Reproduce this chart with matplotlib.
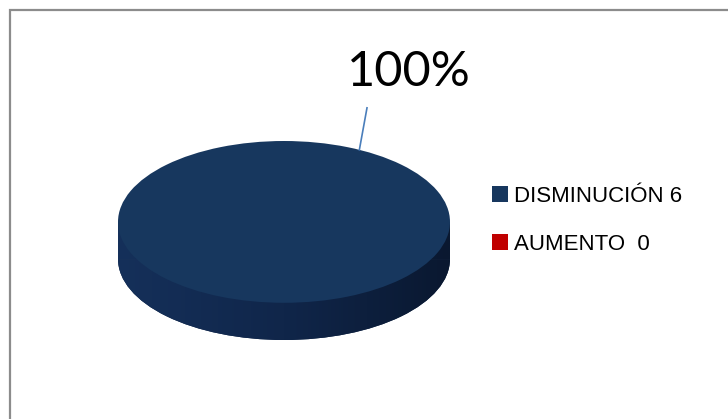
import numpy as np
import matplotlib
matplotlib.use("Agg")
import matplotlib.pyplot as plt
from matplotlib.patches import Rectangle, Wedge
from matplotlib.colors import LinearSegmentedColormap

# Datos del gráfico
categorias = ["DISMINUCIÓN", "AUMENTO "]
valores = [6, 0]
colores = ["#17375e", "#c00000"]
etiqueta_pct = "100%"

W, H = 728, 419
fig = plt.figure(figsize=(W / 100, H / 100), dpi=100)
fig.patch.set_facecolor("white")

# marco gris del área del gráfico (solo lados superior e izquierdo visibles)
fig.add_artist(Rectangle((10 / W, -0.1), 1.2, 1.1 - 10 / H, transform=fig.transFigure,
                         fill=False, edgecolor="#8c8c8c", lw=1.6))

# ejes del pastel: elipse superior + cara lateral
depth = 0.46
left, right, top, bottom = 118, 450, 141, 340
ax = fig.add_axes([left / W, 1 - bottom / H, (right - left) / W, (bottom - top) / H])
ax.set_xlim(-1, 1)
ax.set_ylim(-1 - depth, 1)
ax.axis("off")

# cara lateral: pastel desplazado hacia abajo + franja que lo une
side_color = "#0f2545"
side = Wedge((0, -depth), 1, 180, 360, facecolor=side_color, edgecolor="none")
band = Rectangle((-1, -depth), 2, depth, facecolor=side_color, edgecolor="none")
ax.add_patch(side)
ax.add_patch(band)
cmap = LinearSegmentedColormap.from_list("lado", ["#15305a", "#10264a", "#0a1830"])
grad = np.linspace(0, 1, 256).reshape(1, -1)
img = ax.imshow(grad, extent=(-1, 1, -1 - depth, 0), aspect="auto", cmap=cmap, zorder=1.5)
img.set_clip_path(side)
img2 = ax.imshow(grad, extent=(-1, 1, -1 - depth, 0), aspect="auto", cmap=cmap, zorder=1.5)
img2.set_clip_path(band)

# cara superior
start = -117
wedges, _ = ax.pie(valores, colors=colores, startangle=start, counterclock=True,
                   wedgeprops=dict(edgecolor="none", zorder=2))
ax.set_aspect("auto")
ax.set_xlim(-1, 1)
ax.set_ylim(-1 - depth, 1)

# etiqueta de porcentaje con línea guía
total = sum(valores)
mid = np.deg2rad(start + 360 * valores[0] / total / 2)
rx, ry = np.cos(mid), np.sin(mid)
ax.plot([rx, 0.5], [ry, 1.41], color="#4a7ebb", lw=1.2, clip_on=False, zorder=3)
ax.text(0.75, 1.85, etiqueta_pct, ha="center", va="center", fontsize=35,
        family=["Lato", "DejaVu Sans"], color="black", clip_on=False)

# leyenda
labels = [f"{c} {v}" for c, v in zip(categorias, valores)]
fig.legend(wedges, labels, loc="upper left", bbox_to_anchor=(472 / W, 1 - 166 / H),
           frameon=False, handlelength=0.7, handleheight=0.7,
           handletextpad=0.3, labelspacing=1.2,
           prop=dict(family=["Liberation Sans", "DejaVu Sans"], size=16))

fig.savefig("out.png", dpi=100, facecolor="white")
